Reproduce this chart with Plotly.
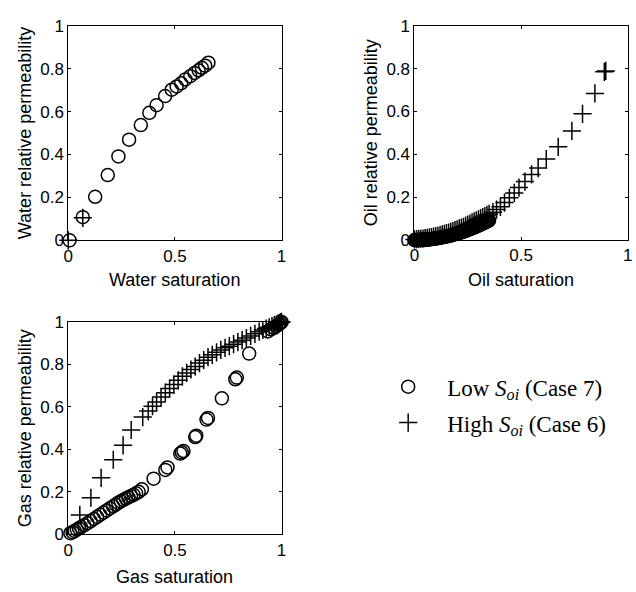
import plotly.graph_objects as go

# Water relative permeability vs water saturation
water_sat_low = [0.006, 0.068, 0.126, 0.185, 0.235, 0.285, 0.340, 0.380, 0.414, 0.454,
                 0.485, 0.508, 0.529, 0.549, 0.572, 0.592, 0.611, 0.626, 0.642, 0.657]
water_kr_low = [0.000, 0.108, 0.203, 0.304, 0.391, 0.469, 0.537, 0.594, 0.630, 0.672,
                0.702, 0.717, 0.732, 0.750, 0.765, 0.780, 0.792, 0.804, 0.814, 0.828]
water_sat_high = [0.000, 0.068]
water_kr_high = [0.000, 0.105]

# Oil relative permeability vs oil saturation
oil_sat_low = [0.000, 0.005, 0.010, 0.015, 0.020, 0.025, 0.030, 0.035, 0.040, 0.045,
               0.050, 0.055, 0.060, 0.065, 0.070, 0.075, 0.080, 0.085, 0.090, 0.095,
               0.100, 0.105, 0.110, 0.115, 0.120, 0.125, 0.130, 0.135, 0.140, 0.145,
               0.150, 0.155, 0.160, 0.165, 0.170, 0.175, 0.180, 0.185, 0.190, 0.195,
               0.200, 0.205, 0.210, 0.215, 0.220, 0.225, 0.230, 0.235, 0.240, 0.245,
               0.250, 0.255, 0.260, 0.265, 0.270, 0.275, 0.280, 0.285, 0.290, 0.295,
               0.300, 0.305, 0.310, 0.315, 0.320, 0.325, 0.330, 0.335, 0.340, 0.345, 0.350]
oil_kr_low = [0.000, 0.000, 0.000, 0.000, 0.000, 0.001, 0.001, 0.001, 0.001, 0.002,
              0.002, 0.002, 0.003, 0.003, 0.004, 0.004, 0.005, 0.005, 0.006, 0.007,
              0.008, 0.008, 0.009, 0.010, 0.011, 0.012, 0.013, 0.014, 0.015, 0.016,
              0.017, 0.018, 0.019, 0.020, 0.022, 0.023, 0.024, 0.026, 0.027, 0.029,
              0.030, 0.032, 0.033, 0.035, 0.036, 0.038, 0.040, 0.041, 0.043, 0.045,
              0.047, 0.049, 0.051, 0.053, 0.055, 0.057, 0.059, 0.061, 0.063, 0.065,
              0.068, 0.070, 0.072, 0.075, 0.077, 0.079, 0.082, 0.084, 0.087, 0.089, 0.092]
oil_sat_high = [0.00, 0.01, 0.02, 0.03, 0.04, 0.05, 0.06, 0.07, 0.08, 0.09, 0.10, 0.11,
                0.12, 0.13, 0.14, 0.15, 0.16, 0.17, 0.18, 0.19, 0.20, 0.21, 0.22, 0.23,
                0.24, 0.25, 0.26, 0.27, 0.28, 0.29, 0.30, 0.31, 0.32, 0.33, 0.34, 0.35,
                0.368, 0.385, 0.403, 0.422, 0.445, 0.468, 0.490, 0.518, 0.549, 0.580,
                0.618, 0.674, 0.738, 0.788, 0.846, 0.890, 0.897]
oil_kr_high = [0.003, 0.004, 0.005, 0.006, 0.007, 0.009, 0.010, 0.012, 0.014, 0.016, 0.018, 0.020,
               0.023, 0.026, 0.029, 0.032, 0.035, 0.038, 0.042, 0.046, 0.050, 0.054, 0.058, 0.062,
               0.067, 0.072, 0.077, 0.082, 0.087, 0.092, 0.097, 0.102, 0.107, 0.112, 0.117, 0.122,
               0.130, 0.142, 0.155, 0.175, 0.197, 0.220, 0.245, 0.273, 0.306, 0.336,
               0.378, 0.435, 0.509, 0.589, 0.684, 0.785, 0.789]

# Gas relative permeability vs gas saturation
gas_sat_low = [0.010, 0.020, 0.030, 0.040, 0.050, 0.060, 0.075, 0.090, 0.105, 0.120, 0.135,
               0.150, 0.165, 0.180, 0.195, 0.210, 0.222, 0.234, 0.246, 0.258, 0.270, 0.282,
               0.294, 0.306, 0.318, 0.330, 0.345, 0.400, 0.455, 0.465, 0.525, 0.532, 0.540,
               0.595, 0.600, 0.648, 0.655, 0.720, 0.783, 0.790, 0.848, 0.935, 0.950, 0.965,
               0.975, 0.985, 0.990, 0.995, 1.000]
gas_kr_low = [0.005, 0.010, 0.016, 0.022, 0.028, 0.034, 0.043, 0.052, 0.062, 0.072, 0.082,
              0.092, 0.102, 0.112, 0.122, 0.132, 0.140, 0.148, 0.155, 0.162, 0.168, 0.174,
              0.180, 0.186, 0.193, 0.200, 0.212, 0.262, 0.303, 0.315, 0.380, 0.386, 0.392,
              0.458, 0.464, 0.540, 0.548, 0.640, 0.730, 0.738, 0.851, 0.955, 0.965, 0.972,
              0.980, 0.987, 0.991, 0.996, 1.000]
gas_sat_high = [0.054, 0.106, 0.154, 0.211, 0.257, 0.295, 0.349, 0.375, 0.395, 0.414, 0.435,
                0.455, 0.475, 0.495, 0.515, 0.535, 0.555, 0.575, 0.595, 0.615, 0.635, 0.655,
                0.675, 0.695, 0.715, 0.735, 0.755, 0.775, 0.795, 0.815, 0.835, 0.855, 0.875,
                0.895, 0.912, 0.928, 0.942, 0.955, 0.966, 0.976, 0.984, 0.991, 0.996, 1.000]
gas_kr_high = [0.091, 0.172, 0.266, 0.351, 0.419, 0.491, 0.552, 0.580, 0.603, 0.623, 0.646,
               0.667, 0.686, 0.705, 0.725, 0.744, 0.760, 0.776, 0.790, 0.806, 0.820, 0.834,
               0.845, 0.857, 0.868, 0.878, 0.886, 0.895, 0.905, 0.914, 0.924, 0.934, 0.944,
               0.954, 0.962, 0.969, 0.975, 0.980, 0.985, 0.989, 0.993, 0.996, 0.998, 1.000]

x_ticks = [0, 0.5, 1]
x_tick_text = ["0", "0.5", "1"]
y_ticks = [0, 0.2, 0.4, 0.6, 0.8, 1]
y_tick_text = ["0", "0.2", "0.4", "0.6", "0.8", "1"]

series_names = ["Low <i>S<sub>oi</sub></i> (Case 7)", "High <i>S<sub>oi</sub></i> (Case 6)"]
x_titles = ["Water saturation", "Oil saturation", "Gas saturation"]
y_titles = ["Water relative permeability", "Oil relative permeability", "Gas relative permeability"]

W, H = 636, 592
# panel boxes in pixels: (left, right, top, bottom)
boxes = [(64.3, 281.0, 17.3, 239.0), (416.0, 632.7, 17.3, 238.7), (64.3, 281.0, 323.3, 542.7)]

SANS = "Liberation Sans, Arial, sans-serif"
circle = dict(symbol="circle-open", size=13, color="black", line=dict(width=1.5, color="black"))
plus = dict(symbol="cross-thin-open", size=13, color="black", line=dict(width=1.5, color="black"))

fig = go.Figure()
panels = [
    (water_sat_low, water_kr_low, water_sat_high, water_kr_high),
    (oil_sat_low, oil_kr_low, oil_sat_high, oil_kr_high),
    (gas_sat_low, gas_kr_low, gas_sat_high, gas_kr_high),
]
for i, (xl, yl, xh, yh) in enumerate(panels):
    sfx = "" if i == 0 else str(i + 1)
    fig.add_trace(go.Scatter(x=xl, y=yl, mode="markers", marker=circle, name=series_names[0],
                             legendgroup="low", showlegend=(i == 0), cliponaxis=False,
                             xaxis="x" + sfx, yaxis="y" + sfx))
    fig.add_trace(go.Scatter(x=xh, y=yh, mode="markers", marker=plus, name=series_names[1],
                             legendgroup="high", showlegend=(i == 0), cliponaxis=False,
                             xaxis="x" + sfx, yaxis="y" + sfx))

axis_common = dict(range=[0, 1], showgrid=False, zeroline=False, showline=True, linecolor="black",
                   linewidth=1, mirror="ticks", ticks="inside", ticklen=3, tickcolor="black",
                   tickwidth=1, tickfont=dict(family=SANS, size=17, color="black"))

layout = dict(width=W, height=H, margin=dict(l=0, r=0, t=0, b=0), paper_bgcolor="white",
              plot_bgcolor="white", showlegend=True)
annotations = []
for i, (l, r, t, b) in enumerate(boxes):
    sfx = "" if i == 0 else str(i + 1)
    layout["xaxis" + sfx] = dict(axis_common, domain=[l / W, r / W], anchor="y" + sfx,
                                 tickvals=x_ticks, ticktext=x_tick_text)
    layout["yaxis" + sfx] = dict(axis_common, domain=[1 - b / H, 1 - t / H], anchor="x" + sfx,
                                 tickvals=y_ticks, ticktext=y_tick_text)
    xt_off = 41 if i < 2 else 44
    annotations.append(dict(text=x_titles[i], xref="paper", yref="paper", x=(l + r) / 2 / W,
                            y=1 - (b + xt_off) / H, xanchor="center", yanchor="middle",
                            showarrow=False, font=dict(family=SANS, size=18, color="black")))
    annotations.append(dict(text=y_titles[i], xref="paper", yref="paper", x=(l - 43.8) / W,
                            y=1 - (t + b) / 2 / H, xanchor="center", yanchor="middle",
                            textangle=-90, showarrow=False,
                            font=dict(family=SANS, size=18, color="black")))
layout["annotations"] = annotations
layout["legend"] = dict(x=370 / W, y=1 - 368 / H, xanchor="left", yanchor="top",
                        font=dict(family="Liberation Serif, Times New Roman, serif", size=23,
                                  color="black"),
                        itemwidth=68, tracegroupgap=3, traceorder="grouped",
                        bgcolor="rgba(0,0,0,0)", borderwidth=0)
fig.update_layout(**layout)

fig.write_html("out.html")
